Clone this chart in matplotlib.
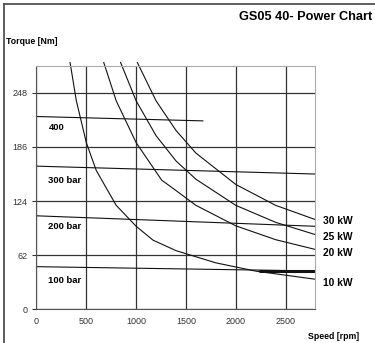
import matplotlib
matplotlib.use('Agg')
import matplotlib.pyplot as plt

plt.rcParams['font.family'] = ['Liberation Sans', 'DejaVu Sans']

x_ticks = [0, 500, 1000, 1500, 2000, 2500]
y_ticks = [0, 62, 124, 186, 248]

# pressure lines (rpm, torque)
p400_rpm = [0, 1670]
p400_tq = [221, 216]
p300_rpm = [0, 2790]
p300_tq = [164, 155]
p200_rpm = [0, 2790]
p200_tq = [107, 95]
p100_rpm = [0, 2790]
p100_tq = [48.6, 43.7]
p100_bold_rpm = [2235, 2790]
p100_bold_tq = [43.7, 43.7]

# power curves
kw10_rpm = [337, 400, 500, 600, 800, 1000, 1170, 1400, 1800, 2200, 2790]
kw10_tq = [283, 239, 191, 159, 119, 95, 79, 67, 53, 43.5, 34.3]
kw20_rpm = [675, 800, 1000, 1256, 1400, 1600, 2000, 2400, 2790]
kw20_tq = [283, 239, 191, 148, 136, 119, 95.5, 79.6, 68.6]
kw25_rpm = [844, 1000, 1200, 1400, 1600, 2000, 2400, 2790]
kw25_tq = [283, 239, 199, 170, 149, 119, 99.5, 85.7]
kw30_rpm = [1012, 1200, 1400, 1600, 2000, 2400, 2790]
kw30_tq = [283, 239, 205, 179, 143, 119, 103]

pressure_labels = ['400', '300 bar', '200 bar', '100 bar']
pressure_label_tq = [208, 148, 95, 32.5]
power_labels = ['30 kW', '25 kW', '20 kW', '10 kW']
power_label_tq = [101, 82.5, 64, 30.3]

fig = plt.figure(figsize=(3.75, 3.43), dpi=100)
ax = fig.add_axes([0.0973, 0.0991, 0.7414, 0.7085])

for r, t in [(p400_rpm, p400_tq), (p300_rpm, p300_tq), (p200_rpm, p200_tq),
             (p100_rpm, p100_tq), (kw10_rpm, kw10_tq), (kw20_rpm, kw20_tq),
             (kw25_rpm, kw25_tq), (kw30_rpm, kw30_tq)]:
    ax.plot(r, t, color='#111111', lw=0.8, clip_on=False)
ax.plot(p100_bold_rpm, p100_bold_tq, color='#111111', lw=2.2, solid_capstyle='butt')

ax.set_xlim(0, 2790)
ax.set_ylim(0, 279)
ax.set_xticks(x_ticks)
ax.set_yticks(y_ticks)
ax.grid(True, color='#333333', lw=0.9)
ax.set_axisbelow(True)
ax.tick_params(axis='both', labelsize=6.5, colors='#333333', length=3, width=0.8)
ax.tick_params(axis='x', length=0, pad=6)
for s in ['top', 'right']:
    ax.spines[s].set_color('#aaaaaa')
for s in ['left', 'bottom']:
    ax.spines[s].set_color('#555555')

for lab, tq in zip(pressure_labels, pressure_label_tq):
    ax.text(120, tq, lab, fontsize=6.8, fontweight='bold', ha='left', va='center')
for lab, tq in zip(power_labels, power_label_tq):
    ax.text(2880, tq, lab, fontsize=7.4, fontweight='bold', ha='left', va='center', clip_on=False)

fig.text(0.992, 0.950, 'GS05 40- Power Chart', fontsize=9.2, fontweight='bold', ha='right', va='center')
fig.text(0.016, 0.878, 'Torque [Nm]', fontsize=6.3, fontweight='bold', ha='left', va='center')
fig.text(0.957, 0.0185, 'Speed [rpm]', fontsize=6.3, fontweight='bold', ha='right', va='center')

# outer frame lines (left and top)
fig.add_artist(plt.Line2D([0.011, 0.011], [0, 0.989], color='#444444', lw=1.2, transform=fig.transFigure))
fig.add_artist(plt.Line2D([0.011, 1.0], [0.989, 0.989], color='#444444', lw=1.2, transform=fig.transFigure))

fig.savefig('out.png', dpi=100)
